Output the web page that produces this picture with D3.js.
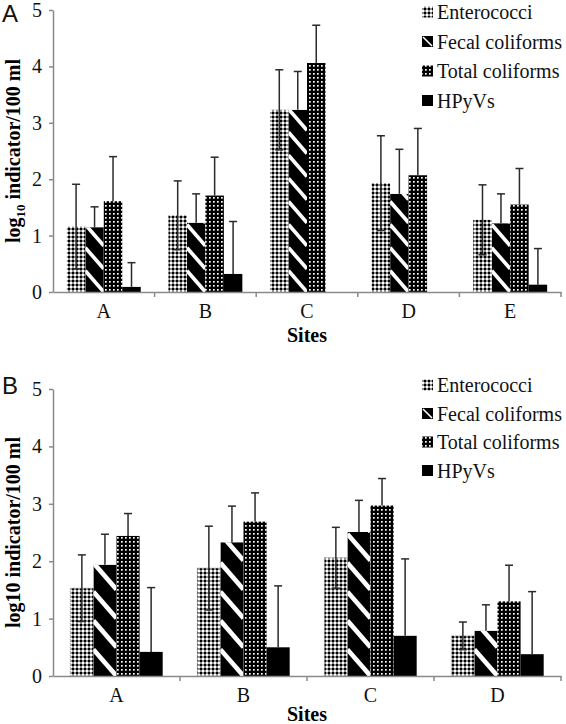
<!DOCTYPE html>
<html><head><meta charset="utf-8">
<script src="https://cdn.jsdelivr.net/npm/d3@7"></script>
<style>
html,body{margin:0;padding:0;background:#fff;}
svg{display:block;}
</style></head>
<body>
<svg id="chart" width="566" height="724"></svg>
<script>
// ---------- DATA ----------
const seriesNames = ["Enterococci", "Fecal coliforms", "Total coliforms", "HPyVs"];
const yTickValues = [0, 1, 2, 3, 4, 5];

// Panel A
const sitesA = ["A", "B", "C", "D", "E"];
const enteroA     = [1.16, 1.36, 3.23, 1.93, 1.28];
const enteroErrA  = [0.75, 0.61, 0.71, 0.84, 0.62];
const fecalA      = [1.15, 1.23, 3.23, 1.74, 1.22];
const fecalErrA   = [0.36, 0.51, 0.68, 0.79, 0.52];
const totalA      = [1.61, 1.71, 4.06, 2.07, 1.55];
const totalErrA   = [0.79, 0.68, 0.67, 0.83, 0.64];
const hpyvA       = [0.09, 0.32, 0, 0, 0.13];
const hpyvErrA    = [0.43, 0.93, 0, 0, 0.64];

// Panel B
const sitesB = ["A", "B", "C", "D"];
const enteroB     = [1.53, 1.88, 2.06, 0.70];
const enteroErrB  = [0.58, 0.73, 0.53, 0.24];
const fecalB      = [1.94, 2.33, 2.51, 0.79];
const fecalErrB   = [0.53, 0.63, 0.55, 0.45];
const totalB      = [2.44, 2.69, 2.97, 1.30];
const totalErrB   = [0.39, 0.50, 0.47, 0.63];
const hpyvB       = [0.42, 0.50, 0.70, 0.38];
const hpyvErrB    = [1.12, 1.07, 1.34, 1.09];

// ---------- DRAW ----------
const svg = d3.select("#chart");
const SERIF = "'Liberation Serif','Times New Roman',serif";
const SANS = "'Liberation Sans',Arial,sans-serif";
const AXIS_COLOR = "#8a8a8a";

const defs = svg.append("defs");
// gingham pattern (Enterococci)
const pg = defs.append("pattern").attr("id", "pEnt").attr("patternUnits", "userSpaceOnUse")
  .attr("width", 4).attr("height", 4);
pg.append("rect").attr("width", 4).attr("height", 4).attr("fill", "#fff");
pg.append("rect").attr("width", 2).attr("height", 4).attr("fill", "#8f8f8f");
pg.append("rect").attr("width", 4).attr("height", 2).attr("fill", "#8f8f8f");
pg.append("rect").attr("width", 2).attr("height", 2).attr("fill", "#000");
// dots pattern (Total coliforms)
const pd = defs.append("pattern").attr("id", "pTot").attr("patternUnits", "userSpaceOnUse")
  .attr("width", 4).attr("height", 4);
pd.append("rect").attr("width", 4).attr("height", 4).attr("fill", "#000");
pd.append("rect").attr("x", 1).attr("y", 1).attr("width", 1.7).attr("height", 1.7).attr("fill", "#fff");

let clipCounter = 0;

function drawPanel(cfg) {
  const g = svg.append("g");
  const x = d3.scaleBand().domain(cfg.sites).range([cfg.left, cfg.right]).padding(0);
  const bw = x.bandwidth() / 5.5;
  const xs = d3.scaleBand().domain(seriesNames).range([0, 4 * bw]).padding(0);
  const y = d3.scaleLinear().domain([0, 5]).range([cfg.bottom, cfg.top]);

  const values = [cfg.ent, cfg.fec, cfg.tot, cfg.hpy];
  const errs = [cfg.entE, cfg.fecE, cfg.totE, cfg.hpyE];
  const data = [];
  cfg.sites.forEach((site, i) => {
    seriesNames.forEach((s, j) => {
      data.push({ site, series: s, idx: j, v: values[j][i], e: errs[j][i] });
    });
  });
  const barX = d => x(d.site) + (x.bandwidth() - 4 * bw) / 2 + xs(d.series);

  // y axis
  const yAxis = d3.axisLeft(y).tickValues(yTickValues).tickSize(4).tickSizeOuter(0).tickPadding(7)
    .tickFormat(d3.format("d"));
  const ya = g.append("g").attr("transform", `translate(${cfg.left},0)`).call(yAxis);
  ya.select(".domain").attr("stroke", AXIS_COLOR).attr("stroke-width", 1.5);
  ya.selectAll(".tick line").attr("stroke", AXIS_COLOR).attr("stroke-width", 1.5);
  ya.selectAll(".tick text").attr("font-family", SERIF).attr("font-size", 20).attr("fill", "#111");

  // bars
  const bars = g.append("g");
  data.filter(d => d.v > 0).forEach(d => {
    const bx = barX(d), by = y(d.v), bh = y(0) - y(d.v);
    if (d.idx === 0) {
      const r = bars.append("rect").attr("x", bx).attr("y", by).attr("width", bw).attr("height", bh)
        .attr("fill", "url(#pEnt)");
      if (cfg.dottedBorder) {
        r.attr("stroke", "#9a9a9a").attr("stroke-width", 1).attr("stroke-dasharray", "1,1");
      }
    } else if (d.idx === 2) {
      bars.append("rect").attr("x", bx).attr("y", by).attr("width", bw).attr("height", bh)
        .attr("fill", "url(#pTot)");
    } else if (d.idx === 3) {
      bars.append("rect").attr("x", bx).attr("y", by).attr("width", bw).attr("height", bh)
        .attr("fill", "#000");
    } else {
      const id = "clipF" + (clipCounter++);
      defs.append("clipPath").attr("id", id).append("rect")
        .attr("x", bx).attr("y", by).attr("width", bw).attr("height", bh);
      const fg = bars.append("g").attr("clip-path", `url(#${id})`);
      fg.append("rect").attr("x", bx).attr("y", by).attr("width", bw).attr("height", bh).attr("fill", "#000");
      const pitch = bw * 1.25;
      const drop = bw * 1.15;
      for (let k = 0; k * pitch < bh + drop; k++) {
        const yEnd = y(0) - k * pitch;
        fg.append("line").attr("x1", bx).attr("y1", yEnd - drop).attr("x2", bx + bw).attr("y2", yEnd)
          .attr("stroke", "#fff").attr("stroke-width", bw * 0.2);
      }
    }
  });

  // error bars
  const eg = g.append("g").attr("stroke", "#2a2a2a").attr("stroke-width", 1.5);
  const cap = 4;
  data.filter(d => d.e > 0).forEach(d => {
    const cx = barX(d) + bw / 2;
    const lo = d.idx === 0 ? d.v - d.e : d.v;
    const hi = d.v + d.e;
    eg.append("line").attr("x1", cx).attr("x2", cx).attr("y1", y(lo)).attr("y2", y(hi));
    eg.append("line").attr("x1", cx - cap).attr("x2", cx + cap).attr("y1", y(hi)).attr("y2", y(hi));
    if (d.idx === 0) {
      eg.append("line").attr("x1", cx - cap).attr("x2", cx + cap).attr("y1", y(lo)).attr("y2", y(lo));
    }
  });

  // x axis
  const xAxis = d3.axisBottom(x).tickSize(0).tickSizeOuter(0).tickPadding(12);
  const xa = g.append("g").attr("transform", `translate(0,${y(0)})`).call(xAxis);
  xa.select(".domain").attr("stroke", AXIS_COLOR).attr("stroke-width", 1.5);
  xa.selectAll(".tick text").attr("font-family", SERIF).attr("font-size", 20).attr("fill", "#111");
  g.append("g").selectAll("line").data(cfg.sites).join("line")
    .attr("x1", d => x(d) + x.bandwidth()).attr("x2", d => x(d) + x.bandwidth())
    .attr("y1", y(0)).attr("y2", y(0) + 5)
    .attr("stroke", AXIS_COLOR).attr("stroke-width", 1.5);

  // x title
  g.append("text").attr("x", (cfg.left + cfg.right) / 2).attr("y", cfg.sitesY)
    .attr("text-anchor", "middle").attr("font-family", SERIF).attr("font-weight", "bold")
    .attr("font-size", 20).text("Sites");

  // y title
  const yt = g.append("text")
    .attr("transform", `translate(${cfg.ytX},${(cfg.top + cfg.bottom) / 2}) rotate(-90)`)
    .attr("text-anchor", "middle").attr("font-family", SERIF).attr("font-weight", "bold")
    .attr("font-size", 20);
  if (cfg.subscript) {
    yt.append("tspan").text("log");
    yt.append("tspan").attr("font-size", 13).attr("dy", 5).text("10");
    yt.append("tspan").attr("dy", -5).text(" indicator/100 ml");
  } else {
    yt.text("log10 indicator/100 ml");
  }

  // panel letter
  g.append("text").attr("x", 2).attr("y", cfg.letterY).attr("font-family", SANS)
    .attr("font-size", 24).attr("fill", "#111").text(cfg.letter);

  // legend
  const lg = g.append("g");
  const sw = 11;
  seriesNames.forEach((s, j) => {
    const ly = cfg.legY + j * cfg.legStep;
    const sx = cfg.legX;
    const row = lg.append("g");
    if (j === 0) {
      row.append("rect").attr("x", sx).attr("y", ly - sw / 2).attr("width", sw).attr("height", sw).attr("fill", "url(#pEnt)");
    } else if (j === 1) {
      row.append("rect").attr("x", sx).attr("y", ly - sw / 2).attr("width", sw).attr("height", sw).attr("fill", "#000");
      row.append("line").attr("x1", sx + 1).attr("y1", ly - sw / 2 + 1).attr("x2", sx + sw - 1).attr("y2", ly + sw / 2 - 1)
        .attr("stroke", "#fff").attr("stroke-width", 1.6);
    } else if (j === 2) {
      row.append("rect").attr("x", sx).attr("y", ly - sw / 2).attr("width", sw).attr("height", sw).attr("fill", "url(#pTot)");
    } else {
      row.append("rect").attr("x", sx).attr("y", ly - sw / 2).attr("width", sw).attr("height", sw).attr("fill", "#000");
    }
    row.append("text").attr("x", sx + sw + 4).attr("y", ly).attr("dy", "0.35em")
      .attr("font-family", SERIF).attr("font-size", 20).attr("fill", "#111").text(s);
  });
}

drawPanel({
  sites: sitesA, ent: enteroA, entE: enteroErrA, fec: fecalA, fecE: fecalErrA,
  tot: totalA, totE: totalErrA, hpy: hpyvA, hpyE: hpyvErrA,
  left: 53, right: 561, top: 10, bottom: 292, sitesY: 342, ytX: 20, subscript: true,
  letter: "A", letterY: 22, legX: 422, legY: 12, legStep: 29.5, dottedBorder: false
});
drawPanel({
  sites: sitesB, ent: enteroB, entE: enteroErrB, fec: fecalB, fecE: fecalErrB,
  tot: totalB, totE: totalErrB, hpy: hpyvB, hpyE: hpyvErrB,
  left: 53, right: 561, top: 389, bottom: 676, sitesY: 721, ytX: 20, subscript: false,
  letter: "B", letterY: 394, legX: 422, legY: 385, legStep: 28.5, dottedBorder: true
});
</script>
</body></html>
